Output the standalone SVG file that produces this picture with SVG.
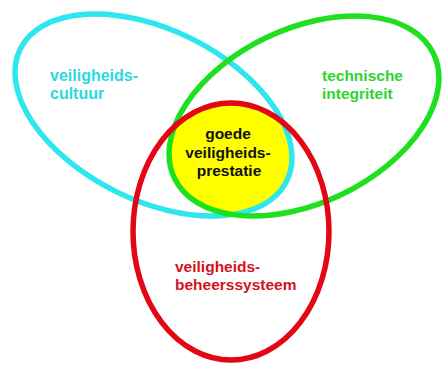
<svg xmlns="http://www.w3.org/2000/svg" width="443" height="365" viewBox="0 0 443 365">
<style>
.ring{fill:none;stroke-width:5.5}
.lbl{font-family:"Liberation Sans",Arial,sans-serif;font-weight:bold;font-size:15.5px}
</style>
<defs>
<clipPath id="clipCyan"><ellipse cx="153.5" cy="115" rx="148.7" ry="85.3" transform="rotate(26.4 153.5 115)"/></clipPath>
<clipPath id="clipGreen"><ellipse cx="304" cy="116" rx="143.7" ry="87" transform="rotate(-25.6 304 116)"/></clipPath>
</defs>
<rect width="443" height="365" fill="#ffffff"/>
<g id="center">
<g clip-path="url(#clipGreen)">
<ellipse cx="231" cy="231.5" rx="98" ry="128.5" fill="#ffff00" clip-path="url(#clipCyan)"/>
</g>
</g>
<g id="cultuur">
<ellipse class="ring" cx="153.5" cy="115" rx="148.7" ry="85.3" transform="rotate(26.4 153.5 115)" stroke="#2ee6ee"/>
<text class="lbl" fill="#2ed8e2" x="50" y="81" style="font-size:16px">veiligheids-</text>
<text class="lbl" fill="#2ed8e2" x="50" y="99" style="font-size:16px">cultuur</text>
</g>
<g id="techniek">
<ellipse class="ring" cx="304" cy="116" rx="143.7" ry="87" transform="rotate(-25.6 304 116)" stroke="#1ee01e"/>
<text class="lbl" fill="#2ed42e" x="322" y="81">technische</text>
<text class="lbl" fill="#2ed42e" x="322" y="99">integriteit</text>
</g>
<g id="beheer">
<ellipse class="ring" cx="231" cy="231.5" rx="98" ry="128.5" stroke="#e30613"/>
<text class="lbl" fill="#d51220" x="175" y="272">veiligheids-</text>
<text class="lbl" fill="#d51220" x="175" y="290">beheerssysteem</text>
</g>
<g id="prestatie">
<text class="lbl" fill="#111111" text-anchor="middle" x="228" y="139">goede</text>
<text class="lbl" fill="#111111" text-anchor="middle" x="228" y="158">veiligheids-</text>
<text class="lbl" fill="#111111" text-anchor="middle" x="229" y="176">prestatie</text>
</g>
<g id="connectors"></g>
</svg>
